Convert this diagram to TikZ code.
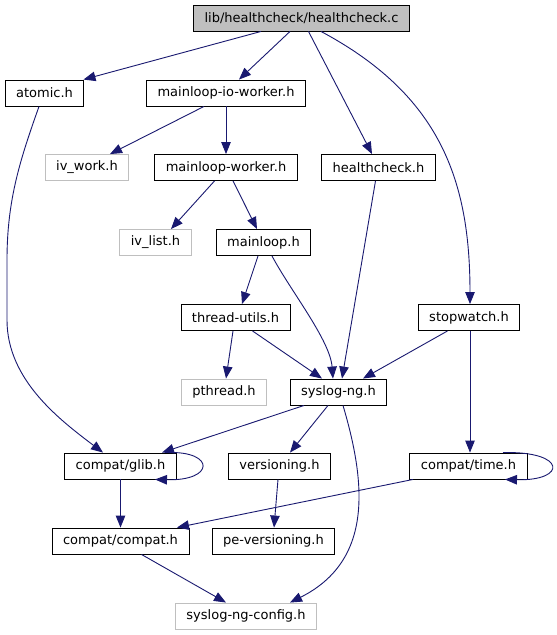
\documentclass[tikz,border=0pt]{standalone}
\usepackage{fontspec}
\setmainfont{DejaVu Sans}
\usepackage{xcolor}
\usepackage{tikz}
\usetikzlibrary{arrows.meta,calc}
\definecolor{edgeblue}{RGB}{25,25,112}

\begin{document}
\begin{tikzpicture}[
	x=1pt, y=-1pt,
	font=\fontsize{13}{15}\selectfont,
	>={Triangle[length=12pt,width=9.5pt]},
	inc/.style={
		rectangle, draw=black, fill=white, line width=0.9pt,
		minimum height=26pt, inner xsep=11pt, inner ysep=0pt
	},
	hdr/.style={inc, fill=black!25},
	ext/.style={inc, draw=black!25},
	arr/.style={->, line width=0.9pt, edgeblue}
	]
	\fill[white] (0,0) rectangle (557,635);
	\useasboundingbox (0,0) rectangle (557,635);

	\node[hdr] (hcc)      at (301.5, 18)  {lib/healthcheck/healthcheck.c};
	\node[inc] (atomic)   at (44.5, 93)   {atomic.h};
	\node[inc] (mlio)     at (226, 93)    {mainloop-io-worker.h};
	\node[ext] (ivwork)   at (87, 167.5)  {iv\_work.h};
	\node[inc] (mlworker) at (226, 167.5) {mainloop-worker.h};
	\node[inc] (hch)      at (378.5, 167.5) {healthcheck.h};
	\node[ext] (ivlist)   at (155.5, 242.5) {iv\_list.h};
	\node[inc] (mainloop) at (263.5, 242.5) {mainloop.h};
	\node[inc] (thutils)  at (235.5, 317.5) {thread-utils.h};
	\node[inc] (stopw)    at (469, 317.5) {stopwatch.h};
	\node[ext] (pthread)  at (224, 392)   {pthread.h};
	\node[inc] (syslogng) at (338.5, 392) {syslog-ng.h};
	\node[inc] (glib)     at (120.5, 466) {compat/glib.h};
	\node[inc] (vers)     at (279.5, 466) {versioning.h};
	\node[inc] (ctime)    at (468.5, 466) {compat/time.h};
	\node[inc] (compat)   at (120.5, 541) {compat/compat.h};
	\node[inc] (pevers)   at (273.5, 541) {pe-versioning.h};
	\node[ext] (config)   at (246, 616)   {syslog-ng-config.h};

	\foreach \a/\b in {mlio/mlworker, glib/compat}
	\draw[arr] (\a) -- (\b);

	\draw[arr] ([xshift=-40.5pt]hcc.south) -- ([xshift=39pt]atomic.north);
	\draw[arr] ([xshift=-11.5pt]hcc.south) -- ([xshift=13pt]mlio.north);
	\draw[arr] ([xshift=7pt]hcc.south) -- ([xshift=-6.5pt]hch.north);
	\draw[arr] ([xshift=19.5pt]hcc.south) .. controls (440,95) and (470,180) .. ([xshift=1pt]stopw.north);
	\draw[arr] ([xshift=-5.5pt]atomic.south) .. controls (20,160) and (7,200) .. (7,260) -- (7,320)
		.. controls (7,380) and (60,420) .. ([xshift=-17.5pt]glib.north);
	\draw[arr] ([xshift=-22pt]mlio.south) -- ([xshift=23pt]ivwork.north);
	\draw[arr] ([xshift=-11.5pt]mlworker.south) -- ([xshift=15.5pt]ivlist.north);
	\draw[arr] ([xshift=7pt]mlworker.south) -- ([xshift=-6.5pt]mainloop.north);
	\draw[arr] ([xshift=-5.5pt]mainloop.south) -- ([xshift=6.5pt]thutils.north);
	\draw[arr] ([xshift=8.5pt]mainloop.south) .. controls (290,290) and (330,340) .. ([xshift=-5.5pt]syslogng.north);
	\draw[arr] ([xshift=-3pt]hch.south) -- ([xshift=3.5pt]syslogng.north);
	\draw[arr] ([xshift=-2.5pt]thutils.south) -- ([xshift=2pt]pthread.north);
	\draw[arr] ([xshift=17pt]thutils.south) -- ([xshift=-16.5pt]syslogng.north);
	\draw[arr] ([xshift=-21.5pt]stopw.south) -- ([xshift=24.5pt]syslogng.north);
	\draw[arr] ([xshift=1pt]stopw.south) -- ([xshift=1.5pt]ctime.north);
	\draw[arr] ([xshift=-34.5pt]syslogng.south) -- ([xshift=41.5pt]glib.north);
	\draw[arr] ([xshift=-10.5pt]syslogng.south) -- ([xshift=10.5pt]vers.north);
	\draw[arr] ([xshift=4.5pt]syslogng.south) .. controls (365,480) and (375,560) .. ([xshift=44pt]config.north);
	\draw[arr] ([xshift=47.5pt]glib.north) .. controls (215,451) and (215,481) .. ([xshift=34.5pt]glib.south);
	\draw[arr] ([xshift=34.5pt]ctime.north) .. controls (567,451) and (567,481) .. ([xshift=36.5pt]ctime.south);
	\draw[arr] ([xshift=-55.5pt]ctime.south) -- ([xshift=56.5pt]compat.north);
	\draw[arr] ([xshift=-1.5pt]vers.south) -- ([xshift=0.5pt]pevers.north);
	\draw[arr] ([xshift=21pt]compat.south) -- ([xshift=-20pt]config.north);
\end{tikzpicture}
\end{document}
